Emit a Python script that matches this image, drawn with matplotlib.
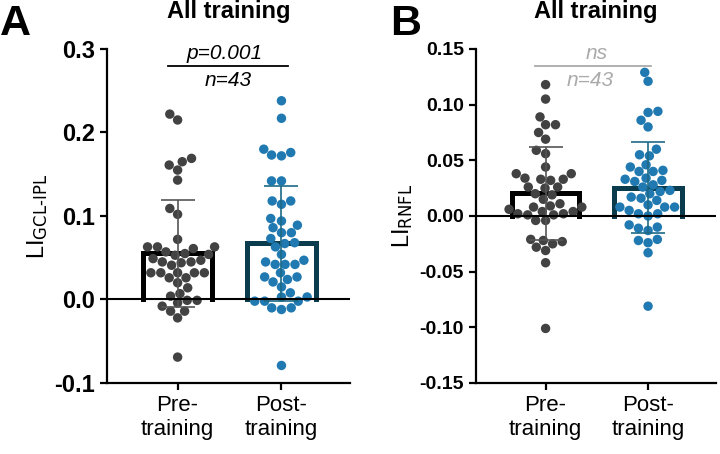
import numpy as np
import pandas as pd
import matplotlib
matplotlib.use('Agg')
import matplotlib.pyplot as plt
import seaborn as sns
from matplotlib.ticker import FormatStrFormatter

# Категории
groups = ['Pre-\ntraining', 'Post-\ntraining']

# Панель A: LI GCL-IPL
gcl_pre = [0.222, 0.215, 0.169, 0.165, 0.161, 0.155, 0.143, 0.109, 0.102, 0.072,
           0.063, 0.063, 0.063, 0.061, 0.057, 0.055, 0.054, 0.053, 0.049, 0.047,
           0.045, 0.045, 0.044, 0.041, 0.032, 0.032, 0.032, 0.032, 0.032, 0.026,
           0.026, 0.020, 0.014, 0.007, 0.004, -0.001, -0.001, -0.004, -0.008, -0.014,
           -0.014, -0.022, -0.069]
gcl_post = [0.238, 0.217, 0.180, 0.176, 0.173, 0.172, 0.142, 0.142, 0.118, 0.118,
            0.114, 0.097, 0.094, 0.089, 0.086, 0.080, 0.080, 0.073, 0.068, 0.067,
            0.063, 0.054, 0.047, 0.045, 0.042, 0.042, 0.042, 0.032, 0.027, 0.027,
            0.024, 0.021, 0.015, 0.008, 0.003, 0.003, -0.002, -0.002, -0.002, -0.010,
            -0.010, -0.012, -0.079]

# Панель B: LI RNFL
rnfl_pre = [0.118, 0.105, 0.089, 0.082, 0.082, 0.075, 0.069, 0.059, 0.056, 0.044,
            0.038, 0.038, 0.034, 0.033, 0.033, 0.032, 0.026, 0.026, 0.025, 0.020,
            0.019, 0.015, 0.011, 0.009, 0.008, 0.008, 0.006, 0.004, 0.004, 0.002,
            0.002, 0.001, 0.001, -0.004, -0.004, -0.021, -0.022, -0.023, -0.025, -0.028,
            -0.031, -0.042, -0.101]
rnfl_post = [0.129, 0.121, 0.094, 0.093, 0.086, 0.080, 0.060, 0.055, 0.054, 0.046,
             0.044, 0.041, 0.040, 0.040, 0.034, 0.033, 0.032, 0.031, 0.028, 0.026,
             0.023, 0.022, 0.020, 0.017, 0.016, 0.014, 0.010, 0.008, 0.008, 0.008,
             0.005, 0.002, 0.002, 0.000, -0.008, -0.010, -0.011, -0.013, -0.021, -0.022,
             -0.024, -0.033, -0.081]

plt.rcParams['font.family'] = ['Liberation Sans', 'DejaVu Sans']
plt.rcParams['axes.unicode_minus'] = False
plt.rcParams['mathtext.default'] = 'regular'

dot_colors = ['#424242', '#2079b0']
bar_colors = ['#000000', '#0b3c4d']
err_colors = ['#555555', '#1d6a86']


# Рисуем одну панель: столбцы среднего, точки, SD
def draw_panel(ax, pre, post, tick_size):
    df = pd.DataFrame({'group': [groups[0]] * len(pre) + [groups[1]] * len(post),
                       'value': pre + post})
    sns.swarmplot(data=df, x='group', y='value', hue='group', order=groups,
                  hue_order=groups, palette=dot_colors, size=6.8, ax=ax,
                  legend=False, zorder=3)
    w = 0.66
    for i, vals in enumerate([pre, post]):
        m = np.mean(vals)
        sd = np.std(vals, ddof=1)
        ax.plot([i - w / 2, i - w / 2, i + w / 2, i + w / 2], [0, m, m, 0],
                color=bar_colors[i], lw=3.6, solid_joinstyle='miter', zorder=2)
        ax.errorbar(i, m, yerr=sd, fmt='none', ecolor=err_colors[i],
                    elinewidth=1.2, capsize=12, capthick=1.2, zorder=4)
    ax.axhline(0, color='black', lw=1.5, zorder=5)
    ax.set_xlim(-0.68, 1.66)
    ax.set_xticks([0, 1], groups, fontsize=16)
    ax.set_xlabel('')
    for s in ['top', 'right']:
        ax.spines[s].set_visible(False)
    for s in ['left', 'bottom']:
        ax.spines[s].set_linewidth(1.6)
    ax.tick_params(width=1.6, length=5)
    ax.tick_params(axis='y', labelsize=tick_size)
    for lab in ax.get_yticklabels():
        lab.set_fontweight('bold')
    ax.set_title('All training', fontsize=17, fontweight='bold', pad=22)


fig = plt.figure(figsize=(7.2, 4.54), dpi=100)
ax1 = fig.add_axes([0.1486, 0.1564, 0.3375, 0.7357])
ax2 = fig.add_axes([0.661, 0.1564, 0.333, 0.7357])

ax1.set_ylim(-0.1, 0.3)
ax1.set_yticks([-0.1, 0.0, 0.1, 0.2, 0.3])
ax1.yaxis.set_major_formatter(FormatStrFormatter('%.1f'))
draw_panel(ax1, gcl_pre, gcl_post, 17)
ax1.set_ylabel(r'LI$_{\text{GCL-IPL}}$', fontsize=17, labelpad=3)

ax2.set_ylim(-0.15, 0.15)
ax2.set_yticks([-0.15, -0.10, -0.05, 0.0, 0.05, 0.10, 0.15])
ax2.yaxis.set_major_formatter(FormatStrFormatter('%.2f'))
draw_panel(ax2, rnfl_pre, rnfl_post, 14)
ax2.set_ylabel(r'LI$_{\text{RNFL}}$', fontsize=17, labelpad=3)

# Подписи статистики
ax1.plot([-0.09, 1.06], [0.280, 0.280], color='black', lw=1.3, clip_on=False)
ax1.annotate('p=0.001', (0.45, 0.280), xytext=(0, 2), textcoords='offset points',
             ha='center', va='bottom', fontsize=15, style='italic', annotation_clip=False)
ax1.annotate('n=43', (0.49, 0.280), xytext=(0, -4), textcoords='offset points',
             ha='center', va='top', fontsize=15, style='italic', annotation_clip=False)

ax2.plot([-0.1, 1.03], [0.135, 0.135], color='#aaaaaa', lw=1.3, clip_on=False)
ax2.annotate('ns', (0.5, 0.135), xytext=(0, 2), textcoords='offset points',
             ha='center', va='bottom', fontsize=15, style='italic', color='#aaaaaa',
             annotation_clip=False)
ax2.annotate('n=43', (0.44, 0.135), xytext=(0, -4), textcoords='offset points',
             ha='center', va='top', fontsize=15, style='italic', color='#aaaaaa',
             annotation_clip=False)

fig.text(0.0, 1 - 4 / 454, 'A', fontsize=31, fontweight='bold', va='top', ha='left')
fig.text(390 / 720, 1 - 4 / 454, 'B', fontsize=31, fontweight='bold', va='top', ha='left')

fig.savefig('out.png', dpi=100)
